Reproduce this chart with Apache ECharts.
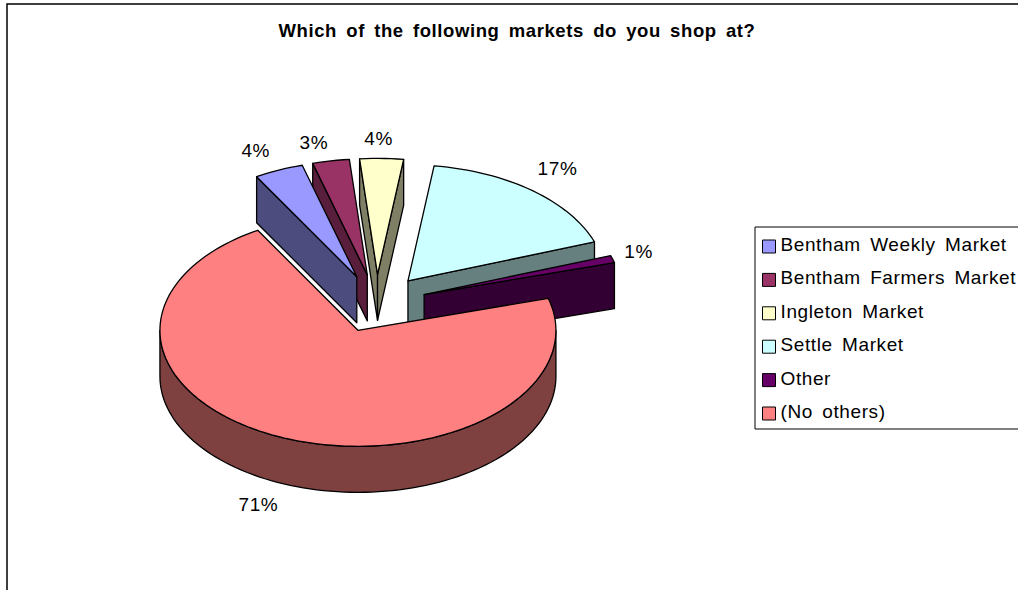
<!DOCTYPE html>
<html>
<head>
<meta charset="utf-8">
<style>
html,body{margin:0;padding:0;background:#fff}
#c{width:1018px;height:590px}
#c text{letter-spacing:.6px;word-spacing:3.5px}
</style>
<script src="https://cdn.jsdelivr.net/npm/echarts@6/dist/echarts.min.js"></script>
</head>
<body>
<div id="c"></div>
<script>
const titleText = 'Which of the following markets do you shop at?';
const categories = ['Bentham Weekly Market','Bentham Farmers Market','Ingleton Market','Settle Market','Other','(No others)'];
const percents = [4,3,3.55,17.45,1,71];
const topColors = ['#9999FF','#993366','#FFFFCC','#CCFFFF','#660066','#FF8080'];
const wallColors = ['#4C4C7F','#591E3B','#7F7F66','#667F7F','#330033','#7F4040'];

// Layout of the drawn pie
const CX = 376.5, CY = 303.4, RX = 198, RY = 116, DEPTH = 46;
const EXPLODE_X = 50, EXPLODE_Y = 29, FIRST_ANGLE = -30.4;
const drawOrder = [2,1,0,3,4,5];
const labelShift = [[-23,-20],[-17,-18],[-3,-20],[25,-22],[26,-8],[-26,66]];
const FONT = '"Liberation Sans", Arial, sans-serif';

const total = percents.reduce((a,b)=>a+b,0);
const rad = d => d*Math.PI/180;
function slice(i){
  let before = 0;
  for(let k=0;k<i;k++) before += percents[k];
  const a0 = FIRST_ANGLE + before/total*360;
  const a1 = a0 + percents[i]/total*360;
  const mid = (a0+a1)/2;
  return {a0,a1,mid,ax:CX+EXPLODE_X*Math.sin(rad(mid)),ay:CY-EXPLODE_Y*Math.cos(rad(mid))};
}
function rimPoint(s,a,dy){return [s.ax+RX*Math.sin(rad(a)), s.ay-RY*Math.cos(rad(a))+(dy||0)];}
function arcPts(s,a0,a1,dy){
  const n = Math.max(2,Math.ceil(Math.abs(a1-a0)/2)), out=[];
  for(let j=0;j<=n;j++) out.push(rimPoint(s,a0+(a1-a0)*j/n,dy));
  return out;
}
const lineStyle = (fill)=>({fill,stroke:'#000',lineWidth:1.3,lineJoin:'round'});
function renderSlice(i){
  const s = slice(i), children = [];
  const A = [s.ax,s.ay], M = rimPoint(s,s.mid);
  // radial walls which face the viewer
  [s.a0,s.a1].forEach(a=>{
    const P = rimPoint(s,a), dx=P[0]-A[0], dy=P[1]-A[1];
    const cross = dx*(M[1]-A[1]) - dy*(M[0]-A[0]);
    if(cross*dx<0){
      children.push({type:'polygon',shape:{points:[A,P,[P[0],P[1]+DEPTH],[A[0],A[1]+DEPTH]]},style:lineStyle(wallColors[i])});
    }
  });
  // rim wall: the part of the outer arc on the near side (90deg..270deg)
  const w0 = Math.max(s.a0,90), w1 = Math.min(s.a1,270);
  if(w1>w0){
    const pts = arcPts(s,w0,w1,0).concat(arcPts(s,w1,w0,DEPTH));
    children.push({type:'polygon',shape:{points:pts},style:lineStyle(wallColors[i])});
  }
  // top face
  children.push({type:'polygon',shape:{points:[A].concat(arcPts(s,s.a0,s.a1,0))},style:lineStyle(topColors[i])});
  // percentage label
  const L = rimPoint(s,s.mid);
  children.push({type:'text',style:{x:L[0]+labelShift[i][0],y:L[1]+labelShift[i][1],text:Math.round(percents[i])+'%',
    fill:'#000',font:'19px '+FONT,align:'center',verticalAlign:'middle'},z2:50});
  return {type:'group',children};
}

const series = drawOrder.map((i,rank)=>({
  type:'custom',name:categories[i],coordinateSystem:'none',z:2+rank,
  itemStyle:{color:topColors[i]},
  data:[[percents[i]]],silent:true,animation:false,
  renderItem:()=>renderSlice(i)
}));

const chart = echarts.init(document.getElementById('c'),null,{renderer:'svg'});
chart.setOption({
  animation:false,
  backgroundColor:'#fff',
  title:{text:titleText,left:512,top:16,textAlign:'center',
    textStyle:{fontFamily:FONT,fontWeight:'bold',fontSize:18.5,color:'#000'}},
  legend:{
    data:categories,orient:'vertical',left:755,top:227,
    padding:[8,40,4,7],itemGap:10.4,itemWidth:13,itemHeight:13,icon:'rect',
    backgroundColor:'#fff',borderColor:'#000',borderWidth:1,
    itemStyle:{borderColor:'#000',borderWidth:1},
    selectedMode:false,
    formatter:n=>'{t|'+n+'}',
    textStyle:{fontFamily:FONT,fontSize:19,color:'#000',
      rich:{t:{fontFamily:FONT,fontSize:19,color:'#000',lineHeight:19,padding:[0,0,4,0]}}}
  },
  graphic:[{type:'rect',z:-1,silent:true,shape:{x:7,y:4,width:1200,height:800},style:{fill:'#fff',stroke:'#000',lineWidth:1.5}}],
  series
});
</script>
</body>
</html>
